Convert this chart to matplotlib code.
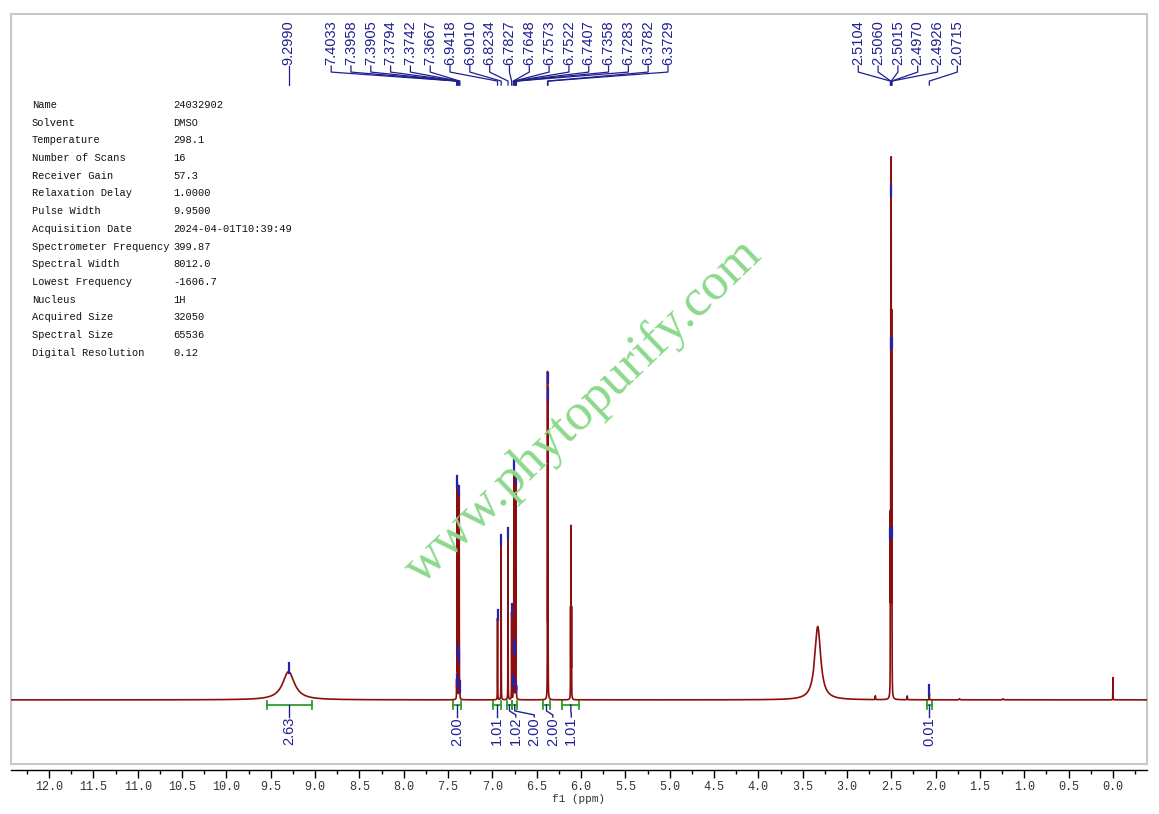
import numpy as np
import matplotlib
matplotlib.use("Agg")
import matplotlib.pyplot as plt
from matplotlib.patches import Rectangle
from matplotlib.ticker import MultipleLocator, FormatStrFormatter

plt.rcParams['font.family'] = ['Liberation Mono', 'DejaVu Sans Mono']

# labelled peaks: shift (ppm), height (2.50 line = 1), width (ppm), label group
peak_ppm = [9.2990,
            7.4033, 7.3958, 7.3905, 7.3794, 7.3742, 7.3667,
            6.9418, 6.9010, 6.8234, 6.7827,
            6.7648, 6.7573, 6.7522, 6.7407, 6.7358, 6.7283,
            6.3782, 6.3729,
            2.5104, 2.5060, 2.5015, 2.4970, 2.4926, 2.0715]
peak_height = [0.052,
               0.030, 0.395, 0.085, 0.072, 0.378, 0.018,
               0.150, 0.288, 0.300, 0.160,
               0.030, 0.425, 0.095, 0.085, 0.400, 0.018,
               0.585, 0.555,
               0.30, 0.65, 0.93, 0.65, 0.30, 0.012]
peak_fwhm = [0.16] + [0.002] * 24
peak_group = [0] + [1] * 18 + [2] * 6
group_center = [9.299, 6.919, 2.314]   # where each label fan is centred

# peaks without labels
extra_ppm = [6.1178, 6.1125, 6.1072, 3.33, 2.68, 2.32, 0.0, 1.73, 1.24]
extra_height = [0.16, 0.31, 0.16, 0.135, 0.007, 0.007, 0.041, 0.002, 0.002]
extra_fwhm = [0.002, 0.002, 0.002, 0.08, 0.004, 0.004, 0.002, 0.01, 0.01]

# integrals
int_hi = [9.54, 7.44, 6.99, 6.84, 6.775, 6.43, 6.21, 2.10]
int_lo = [9.04, 7.35, 6.90, 6.775, 6.72, 6.35, 6.02, 2.04]
int_val = ["2.63", "2.00", "1.01", "1.02", "2.00", "2.00", "1.01", "0.01"]

params = [("Name", "24032902"), ("Solvent", "DMSO"), ("Temperature", "298.1"),
          ("Number of Scans", "16"), ("Receiver Gain", "57.3"),
          ("Relaxation Delay", "1.0000"), ("Pulse Width", "9.9500"),
          ("Acquisition Date", "2024-04-01T10:39:49"),
          ("Spectrometer Frequency", "399.87"), ("Spectral Width", "8012.0"),
          ("Lowest Frequency", "-1606.7"), ("Nucleus", "1H"),
          ("Acquired Size", "32050"), ("Spectral Size", "65536"),
          ("Digital Resolution", "0.12")]

RED = "#8b0d0d"
BLUE = "#1f1f8f"
GREEN = "#2e9e2e"

W, H = 1159, 814
fig = plt.figure(figsize=(W / 100, H / 100), dpi=100)
ax = fig.add_axes([11 / W, (H - 764) / H, 1136 / W, 750 / H])

XL, XR = 12.43, -0.384
ax.set_xlim(XL, XR)
ax.set_ylim(-0.1179, 1.2615)


def py(px):
    # pixel row -> data y (baseline at row 700, 2.50 line top at row 157)
    return (700 - px) / 543.0


PX_PER_PPM = 88.6

# spectrum
all_p = peak_ppm + extra_ppm
all_h = peak_height + extra_height
all_w = peak_fwhm + extra_fwhm
x = np.union1d(np.arange(XR, XL, 0.0002), np.array(all_p))
y = np.zeros_like(x)
for p, h, w in zip(all_p, all_h, all_w):
    y += h / (1 + ((x - p) / (w / 2)) ** 2)
ax.plot(x, y, color=RED, lw=1.2, zorder=3)

# peak markers
for p, h in zip(peak_ppm, peak_height):
    ax.plot([p, p], [h - 0.003, h + 0.016], color="#2323b0", lw=1.6, zorder=4)

# peak labels
step = 19.8 / PX_PER_PPM
for g, c in enumerate(group_center):
    idx = [i for i, gg in enumerate(peak_group) if gg == g]
    n = len(idx)
    for k, i in enumerate(idx):
        lx = c + ((n - 1) / 2 - k) * step
        p = peak_ppm[i]
        ax.plot([lx, lx, p, p], [py(67), py(73), py(82), py(86)],
                color=BLUE, lw=0.9, clip_on=False)
        ax.text(lx, py(66), "%.4f" % p, rotation=90, ha="center", va="bottom",
                color=BLUE, fontsize=10.5, family=["Liberation Sans"])

# integrals
min_gap = 18.5 / PX_PER_PPM
prev = None
for hi, lo, v in zip(int_hi, int_lo, int_val):
    c = (hi + lo) / 2
    lx = c if prev is None else min(c, prev - min_gap)
    prev = lx
    yb = py(705)
    ax.plot([hi, lo], [yb, yb], color=GREEN, lw=1.3)
    for e in (hi, lo):
        ax.plot([e, e], [py(701), py(709)], color=GREEN, lw=1.3)
    ax.plot([c, c, lx, lx], [yb, py(711), py(715), py(717)], color=BLUE, lw=1.0)
    ax.text(lx, py(717), v, rotation=90, ha="center", va="top",
            color=BLUE, fontsize=10.5, family=["Liberation Sans"])

# watermark
fig.text(583 / W, 1 - 411 / H, "www.phytopurify.com", rotation=43.8,
         rotation_mode="anchor", ha="center", va="center", color="#8cd98c",
         fontsize=38, family=["Liberation Serif"], zorder=1)

# parameter table
for r, (k, v) in enumerate(params):
    yy = 1 - (105 + r * 17.7) / H
    fig.text(32 / W, yy, k, fontsize=7.5, va="center", color="#111111")
    fig.text(173 / W, yy, v, fontsize=7.5, va="center", color="#111111")

# frame and axis
ax.add_patch(Rectangle((0, 0), 1, 1, transform=ax.transAxes, fill=False,
                       ec="#c8c8c8", lw=1.5, clip_on=False))
for s in ("top", "left", "right"):
    ax.spines[s].set_visible(False)
ax.spines["bottom"].set_position(("outward", 4))
ax.spines["bottom"].set_color("black")
ax.spines["bottom"].set_linewidth(1.0)
ax.set_yticks([])
ax.xaxis.set_major_locator(MultipleLocator(0.5))
ax.xaxis.set_minor_locator(MultipleLocator(0.25))
ax.xaxis.set_major_formatter(FormatStrFormatter("%.1f"))
ax.tick_params(axis="x", which="major", length=6, width=1, direction="out",
               pad=2, labelsize=8.5, labelcolor="#333333")
ax.tick_params(axis="x", which="minor", length=3, width=1, direction="out")
fig.text(578 / W, 1 - 799 / H, "f1 (ppm)", fontsize=8, ha="center",
         va="center", color="#333333")

fig.savefig("out.png", dpi=100)
